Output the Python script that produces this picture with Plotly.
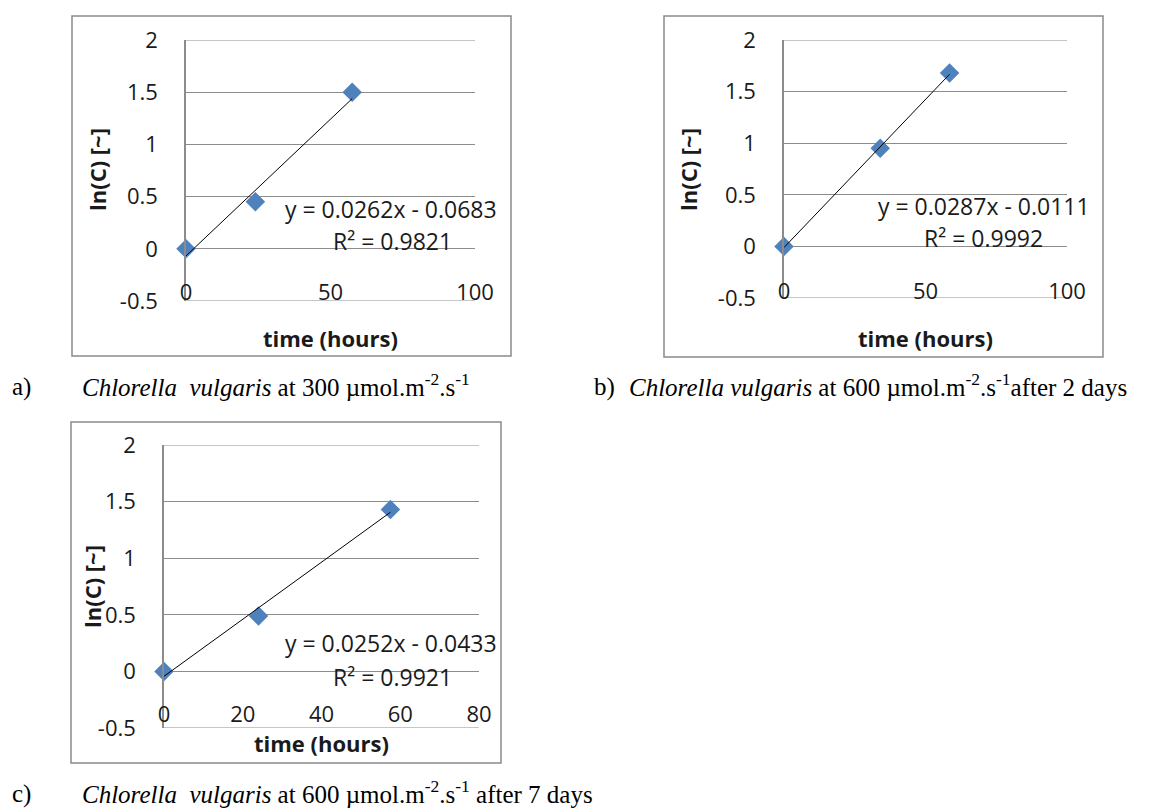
import plotly.graph_objects as go

W, H = 1159, 812

# ---- data ----
time_a = [0, 24, 57.5]
lnc_a = [0, 0.45, 1.5]
time_b = [0, 34, 58.5]
lnc_b = [0, 0.95, 1.68]
time_c = [0, 24, 57.5]
lnc_c = [0, 0.49, 1.43]

slopes = [0.0262, 0.0287, 0.0252]
intercepts = [-0.0683, -0.0111, -0.0433]
r_squared = ["0.9821", "0.9992", "0.9921"]
equations = ["y = 0.0262x - 0.0683", "y = 0.0287x - 0.0111", "y = 0.0252x - 0.0433"]

y_tickvals = [-0.5, 0, 0.5, 1, 1.5, 2]
y_ticktext = ["-0.5", "0", "0.5", "1", "1.5", "2"]
x_ticks_ab = [0, 50, 100]
x_ticks_c = [0, 20, 40, 60, 80]

captions = [
    ("a)", "<i>Chlorella\u00a0\u00a0vulgaris</i> at 300 µmol.m<sup>-2</sup>.s<sup>-1</sup>"),
    ("b)", "<i>Chlorella vulgaris</i> at 600 µmol.m<sup>-2</sup>.s<sup>-1</sup>after 2 days"),
    ("c)", "<i>Chlorella\u00a0\u00a0vulgaris</i> at 600 µmol.m<sup>-2</sup>.s<sup>-1</sup> after 7 days"),
]

# ---- layout geometry (pixels) ----
def px(x):
    return x / W

def py(y):
    return 1 - y / H

panels = [
    dict(x=time_a, y=lnc_a, xr=[0, 100], xt=x_ticks_ab, plot=(186, 475, 40, 301), box=(72, 511, 16, 356),
         xaxis_y=277, eq=(391, 209), r2=(392, 241), ytitle=(97, 170), xtitle=(330, 338)),
    dict(x=time_b, y=lnc_b, xr=[0, 100], xt=x_ticks_ab, plot=(784, 1067, 40, 298), box=(664, 1103, 16, 357),
         xaxis_y=276, eq=(984, 206), r2=(984, 238), ytitle=(688, 170), xtitle=(925, 338)),
    dict(x=time_c, y=lnc_c, xr=[0, 80], xt=x_ticks_c, plot=(164, 479, 445, 728), box=(71, 501, 422, 763),
         xaxis_y=699, eq=(391, 643), r2=(392, 677), ytitle=(92, 587), xtitle=(321, 743)),
]

FONT = "Open Sans"
TXT = "#1a1a1a"
GRID = "#8c8c8c"
MARK = "#4F81BD"

fig = go.Figure()
annotations = []
shapes = []
layout = {}

for i, p in enumerate(panels):
    n = "" if i == 0 else str(i + 1)
    xa, ya = "x" + n, "y" + n
    x0, x1, y0, y1 = p["plot"]
    # linear trendline from the printed fit
    tx = [min(p["x"]), max(p["x"])]
    ty = [slopes[i] * t + intercepts[i] for t in tx]
    # data points
    fig.add_trace(go.Scatter(x=p["x"], y=p["y"], mode="markers", xaxis=xa, yaxis=ya,
                             marker=dict(symbol="diamond", size=15, color=MARK),
                             cliponaxis=False, showlegend=False))
    fig.add_trace(go.Scatter(x=tx, y=ty, mode="lines", xaxis=xa, yaxis=ya,
                             line=dict(color="black", width=1), cliponaxis=False, showlegend=False))
    layout["xaxis" + n] = dict(domain=[px(x0), px(x1)], range=p["xr"], tickvals=p["xt"],
                               ticktext=[str(v) for v in p["xt"]], showgrid=False, zeroline=False,
                               showline=False, ticks="", anchor="free", position=py(p["xaxis_y"]),
                               automargin=False,
                               tickfont=dict(family=FONT, size=22, color=TXT))
    layout["yaxis" + n] = dict(domain=[py(y1), py(y0)], range=[-0.5, 2], tickvals=y_tickvals,
                               ticktext=y_ticktext, showgrid=True, gridcolor=GRID, gridwidth=1,
                               zeroline=False, showline=True, linecolor=GRID, linewidth=1.5,
                               ticks="", ticklabelstandoff=22, anchor=xa, automargin=False,
                               tickfont=dict(family=FONT, size=22, color=TXT))
    # top and bottom gridlines (at the range limits)
    for yv in (y_tickvals[0], y_tickvals[-1]):
        shapes.append(dict(type="line", xref=xa + " domain", yref=ya, x0=0, x1=1, y0=yv, y1=yv,
                           line=dict(color=GRID, width=1), layer="below"))
    # chart border
    bx0, bx1, by0, by1 = p["box"]
    shapes.append(dict(type="rect", xref="paper", yref="paper", x0=px(bx0), x1=px(bx1),
                       y0=py(by1), y1=py(by0), line=dict(color="#8a8a8a", width=1.5)))
    # trendline equation
    annotations.append(dict(x=px(p["eq"][0]), y=py(p["eq"][1]), xref="paper", yref="paper",
                            text=equations[i], showarrow=False, xanchor="center", yanchor="middle",
                            font=dict(family=FONT, size=23, color=TXT)))
    annotations.append(dict(x=px(p["r2"][0]), y=py(p["r2"][1]), xref="paper", yref="paper",
                            text="R² = " + r_squared[i], showarrow=False, xanchor="center", yanchor="middle",
                            font=dict(family=FONT, size=23, color=TXT)))
    # axis titles
    annotations.append(dict(x=px(p["ytitle"][0]), y=py(p["ytitle"][1]), xref="paper", yref="paper",
                            text="<b>ln(C) [~]</b>", textangle=-90, showarrow=False,
                            xanchor="center", yanchor="middle",
                            font=dict(family=FONT, size=22, color=TXT)))
    annotations.append(dict(x=px(p["xtitle"][0]), y=py(p["xtitle"][1]), xref="paper", yref="paper",
                            text="<b>time (hours)</b>", showarrow=False,
                            xanchor="center", yanchor="middle",
                            font=dict(family=FONT, size=22, color=TXT)))

# captions (bottom-anchored so the label and the text share a baseline)
cap_pos = [((10, 80), 403), ((592, 627), 403), ((10, 80), 810)]
for (lab, txt), ((lx, tx), cy) in zip(captions, cap_pos):
    annotations.append(dict(x=px(lx), y=py(cy), xref="paper", yref="paper", text=lab, showarrow=False,
                            xanchor="left", yanchor="bottom",
                            font=dict(family="Liberation Serif", size=25, color="black")))
    annotations.append(dict(x=px(tx), y=py(cy), xref="paper", yref="paper", text=txt, showarrow=False,
                            xanchor="left", yanchor="bottom",
                            font=dict(family="Liberation Serif", size=25, color="black")))

fig.update_layout(width=W, height=H, margin=dict(l=0, r=0, t=0, b=0, autoexpand=False),
                  paper_bgcolor="white", plot_bgcolor="white", annotations=annotations,
                  shapes=shapes, showlegend=False, **layout)

fig.write_html("out.html", config={"displayModeBar": False},
               post_script="document.body.style.margin='0';")
